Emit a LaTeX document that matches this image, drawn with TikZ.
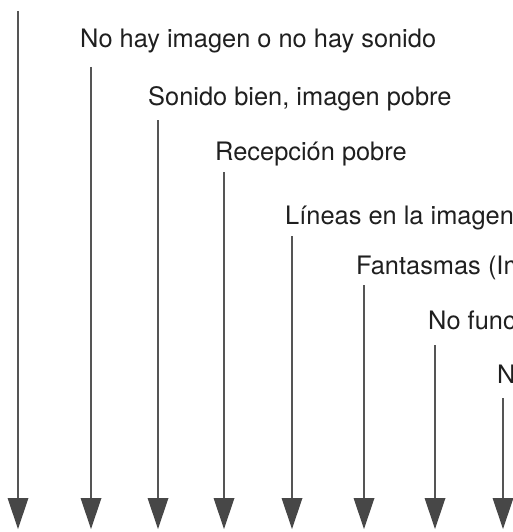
\documentclass[tikz,border=0pt]{standalone}
\usepackage{fontspec}
\setmainfont{TeX Gyre Heros}
\usetikzlibrary{arrows.meta}
\definecolor{linegray}{HTML}{555555}
\definecolor{headgray}{HTML}{474747}
\begin{document}
\begin{tikzpicture}[x=1pt,y=-1pt,
  lbl/.style={anchor=base west,inner sep=0pt,font=\fontsize{25.4pt}{30pt}\selectfont,text=black!88},
  flowarrow/.style={draw=linegray,line width=2.6pt,
    -{Triangle[length=31pt,width=21pt,color=headgray,fill=headgray,line width=0pt]}}]
\useasboundingbox (0,0) rectangle (513,532);
\clip (0,0) rectangle (513,532);
% labels
\node[lbl] (l1) at (80,48) {No hay imagen o no hay sonido};
\node[lbl] (l2) at (148,106) {Sonido bien, imagen pobre};
\node[lbl] (l3) at (215,160) {Recepción pobre};
\node[lbl] (l4) at (285,224) {Líneas en la imagen};
\node[lbl] (l5) at (356,274) {Fantasmas (Imagen doble)};
\node[lbl] (l6) at (428,329) {No funciona};
\node[lbl] (l7) at (497,383) {No};
% arrow ends
\coordinate (t1) at (18,11);  \coordinate (b1) at (18,529);
\coordinate (t2) at (91,67);  \coordinate (b2) at (91,529);
\coordinate (t3) at (158,120); \coordinate (b3) at (158,529);
\coordinate (t4) at (224,172); \coordinate (b4) at (224,529);
\coordinate (t5) at (292,236); \coordinate (b5) at (292,529);
\coordinate (t6) at (364,285); \coordinate (b6) at (364,529);
\coordinate (t7) at (435,345); \coordinate (b7) at (435,529);
\coordinate (t8) at (503,398); \coordinate (b8) at (503,529);
\foreach \i in {1,...,8}{\draw[flowarrow] (t\i) -- (b\i);}
\end{tikzpicture}
\end{document}
